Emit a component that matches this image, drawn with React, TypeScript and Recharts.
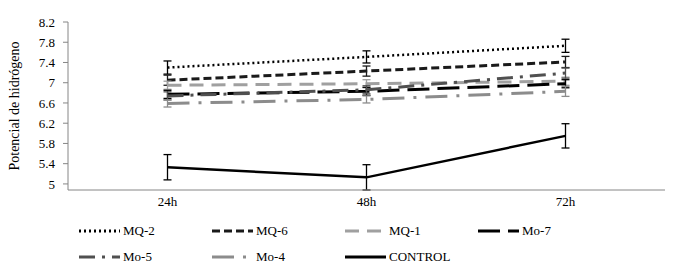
import React from 'react';
import { LineChart, Line, XAxis, YAxis, ErrorBar, Legend } from 'recharts';

// tiempos de muestreo
const categories = ['24h', '48h', '72h'];

// pH medio por tratamiento
const mq2 = [7.3, 7.51, 7.73];
const mq6 = [7.05, 7.23, 7.41];
const mq1 = [6.95, 6.98, 7.03];
const mo7 = [6.77, 6.83, 6.98];
const mo5 = [6.74, 6.86, 7.19];
const mo4 = [6.59, 6.67, 6.83];
const control = [5.33, 5.13, 5.95];

// desviaciones
const mq2Err = [0.13, 0.12, 0.13];
const mq6Err = [0.1, 0.1, 0.11];
const mq1Err = [0.08, 0.08, 0.08];
const mo7Err = [0.08, 0.08, 0.08];
const mo5Err = [0.08, 0.08, 0.1];
const mo4Err = [0.07, 0.07, 0.1];
const controlErr = [0.25, 0.25, 0.24];

const yTicks = [5, 5.4, 5.8, 6.2, 6.6, 7, 7.4, 7.8, 8.2];

const series = [
  { key: 'MQ-2', values: mq2, err: mq2Err, color: '#000000', dash: '2 3', width: 2.5 },
  { key: 'MQ-6', values: mq6, err: mq6Err, color: '#1a1a1a', dash: '8 4', width: 3 },
  { key: 'MQ-1', values: mq1, err: mq1Err, color: '#a0a0a0', dash: '14 8', width: 3 },
  { key: 'Mo-7', values: mo7, err: mo7Err, color: '#000000', dash: '22 8', width: 3 },
  { key: 'Mo-5', values: mo5, err: mo5Err, color: '#505050', dash: '16 7 3 7', width: 3 },
  { key: 'Mo-4', values: mo4, err: mo4Err, color: '#8c8c8c', dash: '22 9 3 9', width: 3 },
  { key: 'CONTROL', values: control, err: controlErr, color: '#000000', dash: undefined, width: 2.5 },
];

const data = categories.map((c, i) => {
  const row: any = { name: c };
  series.forEach(s => {
    row[s.key] = s.values[i];
    row[s.key + '_err'] = s.err[i];
  });
  return row;
});

const FONT = 'Liberation Serif, serif';

const renderLegend = () => (
  <div style={{ position: 'relative', width: 673, height: 50, fontFamily: FONT, fontSize: 13 }}>
    {series.map((s, i) => {
      const col = i % 4;
      const row = Math.floor(i / 4);
      return (
        <div
          key={s.key}
          style={{
            position: 'absolute',
            left: 79 + col * 133,
            top: row * 26,
            display: 'flex',
            alignItems: 'center',
            height: 20,
          }}
        >
          <svg width={42} height={10}>
            <line x1={0} y1={5} x2={41} y2={5} stroke={s.color} strokeWidth={3} strokeDasharray={s.dash} />
          </svg>
          <span style={{ marginLeft: 2, color: '#000' }}>{s.key}</span>
        </div>
      );
    })}
  </div>
);

export default function App() {
  return (
    <div style={{ position: 'absolute', left: 0, top: 0, background: '#fff', fontFamily: FONT }}>
      <LineChart width={673} height={274} data={data} margin={{ top: 22, right: 8, bottom: 54, left: 8 }}>
        <XAxis
          dataKey="name"
          height={30}
          padding={{ left: 99.5, right: 99.5 }}
          tickLine={false}
          tickMargin={1}
          stroke="#868686"
          tick={{ fill: '#000', fontSize: 13, fontFamily: FONT }}
        />
        <YAxis
          width={60}
          domain={[5, 8.2]}
          ticks={yTicks}
          interval={0}
          tickSize={5}
          tickMargin={8}
          stroke="#868686"
          tick={{ fill: '#000', fontSize: 13, fontFamily: FONT }}
          label={{
            value: 'Potencial de hidrógeno',
            angle: -90,
            position: 'insideLeft',
            offset: 6,
            fontSize: 14,
            fontFamily: FONT,
            fill: '#000',
            style: { textAnchor: 'middle' },
          }}
        />
        <Legend
          layout="horizontal"
          verticalAlign="middle"
          align="center"
          wrapperStyle={{ top: 221, left: 0 }}
          content={renderLegend}
        />
        {series.map(s => (
          <Line
            key={s.key}
            type="linear"
            dataKey={s.key}
            stroke={s.color}
            strokeWidth={s.width}
            strokeDasharray={s.dash}
            dot={false}
            activeDot={false}
            isAnimationActive={false}
          >
            <ErrorBar dataKey={s.key + '_err'} width={4} stroke={s.color} strokeWidth={1.3} direction="y" />
          </Line>
        ))}
      </LineChart>
    </div>
  );
}
